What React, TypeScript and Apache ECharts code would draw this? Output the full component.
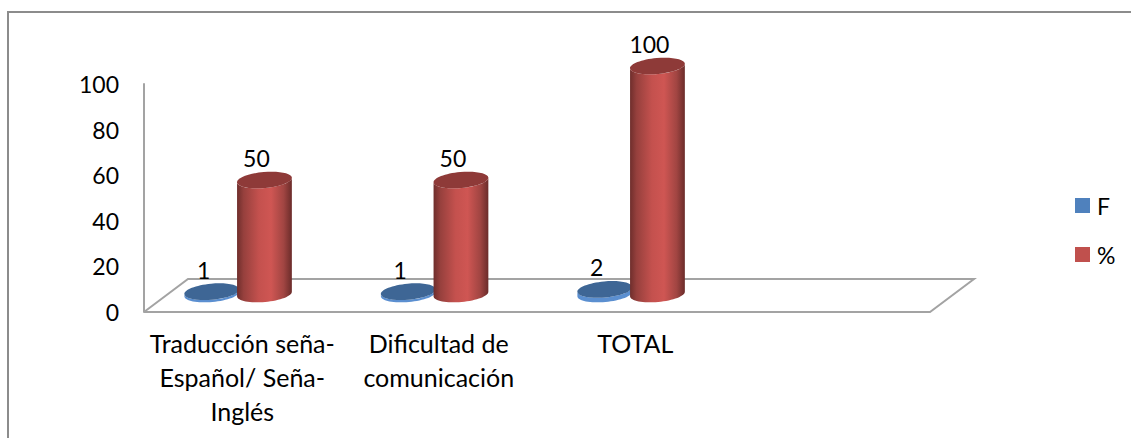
import React, { useEffect, useRef } from "react";
import * as echarts from "echarts";

const categories = [
  "Traducción seña-\nEspañol/ Seña-\nInglés",
  "Dificultad de\ncomunicación",
  "TOTAL",
  "",
];
const seriesF = [1, 1, 2];
const seriesPct = [50, 50, 100];
const yTicks = { min: 0, max: 100, interval: 20 };

const FONT = "Lato";
const TEXT_SIZE = 23;
const CATEGORY_SIZE = 25;
const TILT = 0.09;
const RY = 8;
const FLOOR_DX = 44;
const FLOOR_DY = 33;
const SEAT_DY = 18;

const redFill = {
  side: [
    [0, "#6f2e2c"],
    [0.12, "#96403d"],
    [0.4, "#c4514e"],
    [0.62, "#cf5653"],
    [0.85, "#a14542"],
    [1, "#6b2c2a"],
  ],
  top: "#8e3a38",
  rim: "#8e3a38",
};
const blueFill = {
  side: [
    [0, "#3b6ba5"],
    [0.5, "#5b8fd0"],
    [1, "#3b6ba5"],
  ],
  top: "#3e6695",
  rim: "#5b8fd0",
};

type Fill = typeof redFill;

// Points along the lower (sign = 1) or upper (sign = -1) half of a tilted ellipse.
function halfEllipse(cx: number, cy: number, rx: number, sign: number, reverse: boolean) {
  const pts: number[][] = [];
  const steps = 32;
  for (let i = 0; i <= steps; i++) {
    const t = (Math.PI * i) / steps;
    const ex = -rx * Math.cos(t);
    const ey = sign * RY * Math.sin(t);
    pts.push([
      cx + ex * Math.cos(TILT) + ey * Math.sin(TILT),
      cy - ex * Math.sin(TILT) + ey * Math.cos(TILT),
    ]);
  }
  return reverse ? pts.reverse() : pts;
}

// One cylinder, standing on the floor plane, with its value above it.
function cylinderSeries(name: string, values: number[], fill: Fill, bandOffset: number) {
  return {
    type: "custom",
    name,
    coordinateSystem: "cartesian2d",
    itemStyle: { color: name === "F" ? "#4f81bd" : "#c0504d" },
    data: values.map((v, i) => [i, v]),
    renderItem: (_params: any, api: any) => {
      const band = api.size([1, 0])[0];
      const [px, base] = api.coord([api.value(0), 0]);
      const [, top] = api.coord([api.value(0), api.value(1)]);
      const cx = px + band * bandOffset;
      const rx = band * 0.14;
      const bottomY = base - SEAT_DY;
      const topY = top - SEAT_DY;
      const colorStops = fill.side.map(([offset, color]) => ({ offset, color }));
      return {
        type: "group",
        children: [
          {
            type: "polygon",
            shape: {
              points: [
                ...halfEllipse(cx, bottomY, rx, 1, false),
                ...halfEllipse(cx, topY, rx, 1, true),
              ],
            },
            style: {
              fill:
                bottomY - topY > 10
                  ? new echarts.graphic.LinearGradient(0, 0, 1, 0, colorStops as any)
                  : fill.rim,
            },
          },
          {
            type: "ellipse",
            x: cx,
            y: topY,
            rotation: TILT,
            shape: { cx: 0, cy: 0, rx, ry: RY },
            style: { fill: fill.top },
          },
          {
            type: "text",
            style: {
              text: String(api.value(1)),
              x: cx - 8,
              y: topY - 22,
              fill: "#000",
              font: `${TEXT_SIZE}px ${FONT}`,
              align: "center",
              verticalAlign: "middle",
            },
          },
        ],
      };
    },
  };
}

// The slanted floor of the plot, drawn behind the cylinders.
const floorSeries = {
  type: "custom",
  name: "floor",
  coordinateSystem: "cartesian2d",
  silent: true,
  data: [[0, 0]],
  renderItem: (params: any) => {
    const { x, y, width, height } = params.coordSys;
    const fy = y + height;
    const stroke = "#a3a3a3";
    return {
      type: "group",
      children: [
        {
          type: "polyline",
          shape: {
            points: [
              [x, fy],
              [x + FLOOR_DX, fy - FLOOR_DY],
              [x + width + FLOOR_DX, fy - FLOOR_DY],
              [x + width, fy],
              [x, fy],
            ],
          },
          style: { fill: "none", stroke, lineWidth: 2 },
        },
      ],
    };
  },
};

export default function App() {
  const ref = useRef<HTMLDivElement>(null);

  useEffect(() => {
    const chart = echarts.init(ref.current!, undefined, { renderer: "svg" });
    chart.setOption({
      animation: false,
      backgroundColor: "#fff",
      grid: { left: 144, top: 84, width: 786, height: 228 },
      xAxis: {
        type: "category",
        data: categories,
        axisLine: { show: false },
        axisTick: { show: false },
        axisLabel: {
          interval: 0,
          margin: 14,
          color: "#000",
          fontFamily: FONT,
          fontSize: CATEGORY_SIZE,
          lineHeight: 34,
        },
      },
      yAxis: {
        type: "value",
        ...yTicks,
        splitLine: { show: false },
        axisTick: { show: false },
        axisLine: { show: true, lineStyle: { color: "#a3a3a3", width: 2 } },
        axisLabel: {
          margin: 25,
          color: "#000",
          fontFamily: FONT,
          fontSize: TEXT_SIZE,
        },
      },
      legend: {
        left: 1070,
        top: 189,
        orient: "vertical",
        icon: "rect",
        itemWidth: 15,
        itemHeight: 15,
        itemGap: 26,
        data: ["F", "%"],
        selectedMode: false,
        textStyle: { color: "#000", fontFamily: FONT, fontSize: TEXT_SIZE, padding: [0, 0, 0, 2] },
      },
      series: [
        floorSeries,
        cylinderSeries("F", seriesF, blueFill, -0.155),
        cylinderSeries("%", seriesPct, redFill, 0.113),
      ],
      graphic: [
        {
          type: "polyline",
          silent: true,
          shape: { points: [[8, 438], [8, 12], [1131, 12]] },
          style: { fill: "none", stroke: "#8c8c8c", lineWidth: 2 },
        },
      ],
    });
    return () => chart.dispose();
  }, []);

  return (
    <div
      ref={ref}
      style={{ position: "absolute", left: 0, top: 0, width: 1131, height: 438 }}
    />
  );
}
